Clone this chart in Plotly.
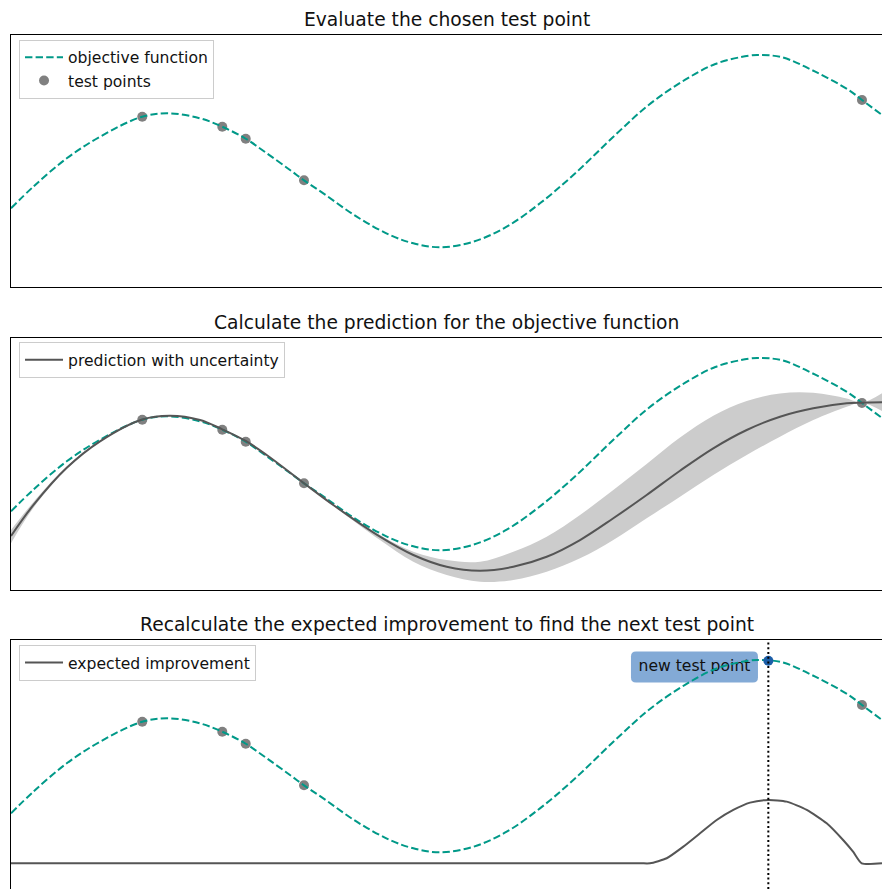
import plotly.graph_objects as go

# ---------------- data ----------------
x_objective = [0.000, 0.256, 0.640, 1.022, 1.507, 1.826, 2.170, 2.426, 2.695, 2.936,
               3.203, 3.364, 3.586, 3.969, 4.351, 4.619, 4.925, 5.308, 5.691, 6.073,
               6.456, 6.938, 7.321, 7.704, 8.086, 8.470, 8.584, 8.852, 9.234, 9.618,
               9.770, 10.000]
y_objective = [-0.563, -0.306, 0.032, 0.289, 0.527, 0.567, 0.508, 0.408, 0.265, 0.092,
               -0.107, -0.230, -0.385, -0.663, -0.881, -0.980, -1.027, -0.961, -0.782, -0.504,
               -0.167, 0.310, 0.667, 0.944, 1.155, 1.254, 1.262, 1.235, 1.063, 0.845,
               0.726, 0.548]

x_tested = [1.507, 2.426, 2.695, 3.364, 9.770]
y_tested = [0.527, 0.408, 0.265, -0.230, 0.726]

x_pred = [0.000, 0.256, 0.640, 1.022, 1.507, 1.826, 2.170, 2.426, 2.695, 2.936,
          3.356, 3.700, 4.236, 4.619, 5.002, 5.385, 5.767, 6.150, 6.533, 6.915,
          7.298, 7.681, 8.063, 8.447, 8.829, 9.211, 9.595, 9.767, 10.000]
y_pred_mean = [-0.857, -0.490, -0.045, 0.270, 0.530, 0.575, 0.524, 0.413, 0.274, 0.107,
               -0.223, -0.488, -0.865, -1.083, -1.223, -1.270, -1.223, -1.104, -0.905, -0.646,
               -0.369, -0.080, 0.187, 0.405, 0.563, 0.663, 0.723, 0.730, 0.734]
y_pred_upper = [-0.786, -0.455, -0.030, 0.276, 0.532, 0.577, 0.526, 0.415, 0.276, 0.109,
                -0.218, -0.478, -0.845, -1.044, -1.143, -1.163, -1.044, -0.865, -0.607, -0.310,
                0.000, 0.315, 0.575, 0.750, 0.840, 0.848, 0.780, 0.730, 0.841]
y_pred_lower = [-0.944, -0.525, -0.060, 0.264, 0.528, 0.573, 0.522, 0.411, 0.272, 0.105,
                -0.228, -0.498, -0.905, -1.163, -1.321, -1.401, -1.381, -1.282, -1.123, -0.905,
                -0.646, -0.389, -0.131, 0.107, 0.325, 0.524, 0.682, 0.730, 0.630]

x_ei = [0.000, 7.222, 7.336, 7.528, 7.719, 7.911, 8.102, 8.293, 8.485, 8.695,
        8.906, 9.136, 9.365, 9.556, 9.670, 9.767, 10.000]
ei_values = [0.000, 0.000, 0.000, 0.060, 0.198, 0.357, 0.515, 0.635, 0.722, 0.754,
             0.734, 0.635, 0.476, 0.274, 0.135, 0.000, 0.000]

x_new = 8.695
y_new = 1.252

titles = ["Evaluate the chosen test point",
          "Calculate the prediction for the objective function",
          "Recalculate the expected improvement to find the next test point"]

# ---------------- styling / layout constants ----------------
EI_BASELINE = -1.158          # where the EI zero line sits on the shared axis
LABEL_X, LABEL_Y = 7.847, 1.179
TEAL = "#009988"
GRAY_PT = "#808080"
DARK = "#555555"
BAND = "#cccccc"
BLUE = "#1c5ea8"
FONT = "DejaVu Sans"
DASH = "7.4px,3.2px"

fig = go.Figure()

# ---- panel 1 ----
fig.add_trace(go.Scatter(x=x_tested, y=y_tested, mode="markers", name="test points",
                         marker=dict(color=GRAY_PT, size=10),
                         xaxis="x", yaxis="y", legend="legend"))
fig.add_trace(go.Scatter(x=x_objective, y=y_objective, mode="lines", name="objective function",
                         line=dict(color=TEAL, width=2, dash=DASH, shape="spline"),
                         xaxis="x", yaxis="y", legend="legend"))

# ---- panel 2 ----
fig.add_trace(go.Scatter(x=x_tested, y=y_tested, mode="markers", showlegend=False,
                         marker=dict(color=GRAY_PT, size=10), xaxis="x2", yaxis="y2"))
fig.add_trace(go.Scatter(x=x_pred, y=y_pred_lower, mode="lines", showlegend=False,
                         line=dict(width=0, shape="spline"), hoverinfo="skip",
                         xaxis="x2", yaxis="y2"))
fig.add_trace(go.Scatter(x=x_pred, y=y_pred_upper, mode="lines", showlegend=False,
                         line=dict(width=0, shape="spline"), fill="tonexty", fillcolor=BAND,
                         hoverinfo="skip", xaxis="x2", yaxis="y2"))
fig.add_trace(go.Scatter(x=x_objective, y=y_objective, mode="lines", showlegend=False,
                         line=dict(color=TEAL, width=2, dash=DASH, shape="spline"),
                         xaxis="x2", yaxis="y2"))
fig.add_trace(go.Scatter(x=x_pred, y=y_pred_mean, mode="lines", name="prediction with uncertainty",
                         line=dict(color=DARK, width=2, shape="spline"),
                         xaxis="x2", yaxis="y2", legend="legend2"))

# ---- panel 3 ----
fig.add_trace(go.Scatter(x=[LABEL_X], y=[LABEL_Y], mode="text", text=["new test point"],
                         textposition="middle center", showlegend=False, hoverinfo="skip",
                         textfont=dict(size=15.6, family=FONT, color="#111111"),
                         xaxis="x3", yaxis="y3"))
fig.add_trace(go.Scatter(x=x_tested, y=y_tested, mode="markers", showlegend=False,
                         marker=dict(color=GRAY_PT, size=10), xaxis="x3", yaxis="y3"))
fig.add_trace(go.Scatter(x=x_objective, y=y_objective, mode="lines", showlegend=False,
                         line=dict(color=TEAL, width=2, dash=DASH, shape="spline"),
                         xaxis="x3", yaxis="y3"))
fig.add_trace(go.Scatter(x=[x_new], y=[y_new], mode="markers", showlegend=False,
                         marker=dict(color=BLUE, size=10), xaxis="x3", yaxis="y3"))
fig.add_trace(go.Scatter(x=x_ei, y=[EI_BASELINE + v for v in ei_values], mode="lines",
                         name="expected improvement",
                         line=dict(color=DARK, width=2, shape="spline", smoothing=0.6),
                         xaxis="x3", yaxis="y3", legend="legend3"))

# ---------------- axes ----------------
axis_common = dict(showgrid=False, zeroline=False, showticklabels=False, ticks="",
                   showline=True, linecolor="black", linewidth=1)
doms = [[0.67717, 0.96063], [0.33633, 0.61980], [0.0, 0.28009]]
yranges = [[-1.5, 1.5], [-1.5, 1.5], [-1.464, 1.5]]

fig.update_layout(
    xaxis=dict(domain=[0, 1], range=[0, 10], anchor="y", mirror=True, **axis_common),
    yaxis=dict(domain=doms[0], range=yranges[0], anchor="x", mirror=False, **axis_common),
    xaxis2=dict(domain=[0, 1], range=[0, 10], anchor="y2", mirror=True, **axis_common),
    yaxis2=dict(domain=doms[1], range=yranges[1], anchor="x2", mirror=False, **axis_common),
    xaxis3=dict(domain=[0, 1], range=[0, 10], anchor="y3", side="top", mirror=False, **axis_common),
    yaxis3=dict(domain=doms[2], range=yranges[2], anchor="x3", mirror=False, **axis_common),
)

legend_common = dict(xanchor="left", yanchor="top", bgcolor="rgba(255,255,255,0.8)",
                     bordercolor="#cccccc", borderwidth=1, tracegroupgap=0, itemwidth=38,
                     font=dict(size=15.6, family=FONT, color="#111111"))
fig.update_layout(
    legend=dict(x=0.0092, y=0.9555, traceorder="reversed", **legend_common),
    legend2=dict(x=0.0092, y=0.6153, **legend_common),
    legend3=dict(x=0.0092, y=0.2745, **legend_common),
)

# titles
title_y = [0.97807, 0.63723, 0.29753]
for t, ty in zip(titles, title_y):
    fig.add_annotation(text=t, xref="paper", yref="paper", x=0.5, y=ty,
                       xanchor="center", yanchor="middle", showarrow=False,
                       font=dict(size=18.7, family=FONT, color="#111111"))

# rounded label box behind "new test point" (pixel-sized, anchored at the label)
fig.add_shape(type="path", xref="x3", yref="y3", xsizemode="pixel", ysizemode="pixel",
              xanchor=LABEL_X, yanchor=LABEL_Y,
              path="M -58.5,-15.5 L 58.5,-15.5 Q 63.5,-15.5 63.5,-10.5 L 63.5,10.5 "
                   "Q 63.5,15.5 58.5,15.5 L -58.5,15.5 Q -63.5,15.5 -63.5,10.5 "
                   "L -63.5,-10.5 Q -63.5,-15.5 -58.5,-15.5 Z",
              fillcolor="rgba(30,100,180,0.55)", line=dict(width=0), layer="below")

# dotted vertical line at the new test point
fig.add_shape(type="line", xref="x3", yref="y3 domain", x0=x_new, x1=x_new, y0=0, y1=1,
              line=dict(color="black", width=2, dash="2px,2.7px"), layer="above")

fig.update_layout(width=882, height=889, margin=dict(l=11, r=0, t=0, b=0, pad=0),
                  paper_bgcolor="white", plot_bgcolor="white", template="none",
                  font=dict(family=FONT, color="#111111"), showlegend=True)

fig.write_html("out.html",
               config={"displayModeBar": False},
               post_script="document.body.style.margin='0px';"
                           "document.body.style.overflow='hidden';")
